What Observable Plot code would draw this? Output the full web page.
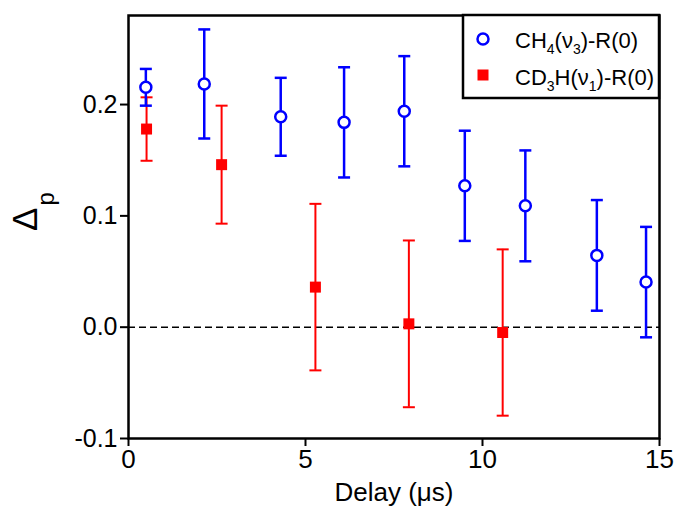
<!DOCTYPE html>
<html>
<head>
<meta charset="utf-8">
<script src="https://cdn.jsdelivr.net/npm/d3@7"></script>
<script src="https://cdn.jsdelivr.net/npm/@observablehq/plot@0.6"></script>
<style>
  html, body { margin: 0; padding: 0; background: #fff; }
  #chart svg { display: block; }
</style>
</head>
<body>
<div id="chart"></div>
<script>
// CH4(ν3)-R(0)
const ch4Delay = [0.49, 2.14, 4.30, 6.09, 7.79, 9.50, 11.21, 13.23, 14.62];
const ch4Value = [0.2155, 0.2185, 0.189, 0.184, 0.194, 0.127, 0.109, 0.0645, 0.0405];
const ch4Err   = [0.0165, 0.049, 0.035, 0.0495, 0.0495, 0.0495, 0.0498, 0.0497, 0.0496];
// CD3H(ν1)-R(0)
const cd3hDelay = [0.51, 2.63, 5.28, 7.92, 10.57];
const cd3hValue = [0.178, 0.146, 0.036, 0.003, -0.0048];
const cd3hErr   = [0.0285, 0.053, 0.0748, 0.0749, 0.0747];

const xTicks = [0, 5, 10, 15];
const yTicks = [-0.1, 0.0, 0.1, 0.2];

const ch4 = ch4Delay.map((x, i) => ({x, y: ch4Value[i], lo: ch4Value[i] - ch4Err[i], hi: ch4Value[i] + ch4Err[i]}));
const cd3h = cd3hDelay.map((x, i) => ({x, y: cd3hValue[i], lo: cd3hValue[i] - cd3hErr[i], hi: cd3hValue[i] + cd3hErr[i]}));

// horizontal cap symbol for error bars
const cap = {
  draw(ctx, size) {
    const w = Math.sqrt(size / Math.PI);
    ctx.moveTo(-w, 0);
    ctx.lineTo(w, 0);
  }
};

const W = 676, H = 507;
const plot = Plot.plot({
  width: W,
  height: H,
  marginLeft: 128,
  marginRight: 17,
  marginTop: 15,
  marginBottom: 69,
  style: {fontFamily: "'Liberation Sans', Arial, sans-serif", background: "white", color: "black"},
  x: {domain: [0, 15]},
  y: {domain: [-0.1, 0.28]},
  marks: [
    Plot.ruleY([0], {stroke: "black", strokeWidth: 1.5, strokeDasharray: "7,4"}),
    // CD3H error bars + caps
    Plot.ruleX(cd3h, {x: "x", y1: "lo", y2: "hi", stroke: "#ff0000", strokeWidth: 2}),
    Plot.dot(cd3h, {x: "x", y: "lo", symbol: cap, r: 6, stroke: "#ff0000", strokeWidth: 2}),
    Plot.dot(cd3h, {x: "x", y: "hi", symbol: cap, r: 6, stroke: "#ff0000", strokeWidth: 2}),
    // CH4 error bars + caps
    Plot.ruleX(ch4, {x: "x", y1: "lo", y2: "hi", stroke: "#0000ff", strokeWidth: 2.5}),
    Plot.dot(ch4, {x: "x", y: "lo", symbol: cap, r: 6, stroke: "#0000ff", strokeWidth: 2.5}),
    Plot.dot(ch4, {x: "x", y: "hi", symbol: cap, r: 6, stroke: "#0000ff", strokeWidth: 2.5}),
    // markers
    Plot.dot(cd3h, {x: "x", y: "y", symbol: "square", r: 6.2, fill: "#ff0000", stroke: "none"}),
    Plot.dot(ch4, {x: "x", y: "y", r: 5.5, fill: "white", stroke: "#0000ff", strokeWidth: 2.5}),
    Plot.axisX({ticks: xTicks, tickSize: 8, tickPadding: 3, tickFormat: d => String(d), fontSize: 26, label: null, strokeWidth: 2}),
    Plot.axisY({ticks: yTicks, tickSize: 8, tickPadding: 3, tickFormat: d => d.toFixed(1), fontSize: 25, label: null, strokeWidth: 2}),
    Plot.frame({stroke: "black", strokeWidth: 2.5}),
    Plot.text(["Delay (μs)"], {frameAnchor: "bottom", dy: 62, fontSize: 26, fill: "black"})
  ]
});

document.getElementById("chart").appendChild(plot);

const svg = d3.select(plot);
const ff = "'Liberation Sans', Arial, sans-serif";

// y-axis label Δ_p (rotated)
const yl = svg.append("text")
  .attr("transform", "translate(37,231) rotate(-90)")
  .attr("text-anchor", "start")
  .attr("font-family", ff)
  .attr("fill", "black");
yl.append("tspan").attr("font-size", 35).text("Δ");
yl.append("tspan").attr("font-size", 24).attr("dy", 17).attr("dx", 2).text("p");

// legend
const lg = svg.append("g").attr("font-family", ff).attr("text-anchor", "start");
lg.append("rect").attr("x", 463).attr("y", 15).attr("width", 196).attr("height", 83)
  .attr("fill", "white").attr("stroke", "black").attr("stroke-width", 2.5);
lg.append("circle").attr("cx", 483).attr("cy", 39).attr("r", 5.5)
  .attr("fill", "white").attr("stroke", "#0000ff").attr("stroke-width", 2.5);
lg.append("rect").attr("x", 477.5).attr("y", 69.5).attr("width", 11).attr("height", 11)
  .attr("fill", "#ff0000");

function legendText(y, parts) {
  const t = lg.append("text").attr("x", 515).attr("y", y).attr("font-size", 22)
    .attr("fill", "black").attr("text-anchor", "start");
  let prevSub = false;
  parts.forEach(([s, sub]) => {
    const ts = t.append("tspan").text(s);
    if (sub) {
      ts.attr("font-size", 14).attr("dy", 6);
    } else if (prevSub) {
      ts.attr("dy", -6);
    }
    prevSub = !!sub;
  });
}
legendText(48, [["CH"], ["4", true], ["(ν"], ["3", true], [")-R(0)"]]);
legendText(85, [["CD"], ["3", true], ["H(ν"], ["1", true], [")-R(0)"]]);
</script>
</body>
</html>
